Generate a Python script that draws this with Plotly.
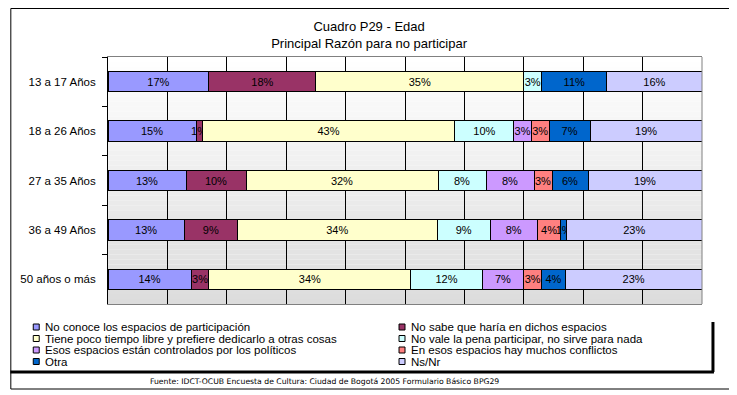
import plotly.graph_objects as go

# ---------------- data ----------------
age_groups = ["13 a 17 Años", "18 a 26 Años", "27 a 35 Años", "36 a 49 Años", "50 años o más"]
reasons = [
    "No conoce los espacios de participación",
    "No sabe que haría en dichos espacios",
    "Tiene poco tiempo libre y prefiere dedicarlo a otras cosas",
    "No vale la pena participar, no sirve para nada",
    "Esos espacios están controlados por los políticos",
    "En esos espacios hay muchos conflictos",
    "Otra",
    "Ns/Nr",
]
no_conoce = [17, 15, 13, 13, 14]
no_sabe = [18, 1, 10, 9, 3]
poco_tiempo = [35, 43, 32, 34, 34]
no_vale = [3, 10, 8, 9, 12]
politicos = [0, 3, 8, 8, 7]
conflictos = [0, 3, 3, 4, 3]
otra = [11, 7, 6, 1, 4]
ns_nr = [16, 19, 19, 23, 23]
series = [no_conoce, no_sabe, poco_tiempo, no_vale, politicos, conflictos, otra, ns_nr]
colors = ["#9999FF", "#993366", "#FFFFCC", "#CCFFFF", "#CC99FF", "#FF8080", "#0066CC", "#CCCCFF"]

title_text = "Cuadro P29 - Edad<br>Principal Razón para no participar"
source_text = "Fuente: IDCT-OCUB Encuesta de Cultura: Ciudad de Bogotá 2005 Formulario Básico BPG29"

# ---------------- layout geometry (screen pixels; page body has 8px margin) ----------------
OFF = 8
W, H = 737 - OFF, 395 - OFF
L, R, T, B = 106, 702, 57, 304  # plot area in screen pixels


def px_x(x):
    return (x - L) / (R - L)


def px_y(y):
    return (B - y) / (B - T)


FONT = "Liberation Sans, Arial, sans-serif"

fig = go.Figure()
for name, vals, col in zip(reasons, series, colors):
    fig.add_trace(go.Bar(
        y=age_groups, x=vals, name=name, orientation="h",
        marker=dict(color=col, line=dict(color="black", width=1)),
        text=[f"{v}%" for v in vals],
        textposition="inside", insidetextanchor="middle", textangle=0,
        textfont=dict(family=FONT, size=11, color="black"),
        showlegend=False,
    ))

shapes = []
# gradient background of plot area
n = 50
for i in range(n):
    t = (i + 0.5) / n
    c = int(round(255 - t * (255 - 220)))
    shapes.append(dict(type="rect", xref="paper", yref="paper", layer="below",
                       x0=0, x1=1, y0=1 - i / n, y1=1 - (i + 1) / n,
                       line=dict(width=0), fillcolor=f"rgb({c},{c},{c})"))
# right border of plot area (gray)
shapes.append(dict(type="line", xref="paper", yref="paper", x0=1, x1=1, y0=0, y1=1,
                   line=dict(color="#808080", width=1)))
# outer chart border
shapes.append(dict(type="rect", xref="paper", yref="paper",
                   x0=px_x(8.5), x1=px_x(731), y0=px_y(8.5), y1=px_y(389),
                   line=dict(color="black", width=1)))
# legend shadow
shapes.append(dict(type="line", xref="paper", yref="paper",
                   x0=px_x(8), x1=px_x(714), y0=px_y(372), y1=px_y(372),
                   line=dict(color="black", width=3)))
shapes.append(dict(type="line", xref="paper", yref="paper",
                   x0=px_x(713), x1=px_x(713), y0=px_y(322), y1=px_y(372),
                   line=dict(color="black", width=3)))

annotations = []
# legend (two columns, row-wise order)
row_y = [327, 338.5, 350, 361.5]
col_x = [31, 398]
for k, (name, col) in enumerate(zip(reasons, colors)):
    r, c = divmod(k, 2)
    x0 = col_x[c]
    yc = row_y[r]
    shapes.append(dict(type="rect", xref="paper", yref="paper",
                       x0=px_x(x0), x1=px_x(x0 + 6), y0=px_y(yc - 3), y1=px_y(yc + 3),
                       fillcolor=col, line=dict(color="black", width=1)))
    annotations.append(dict(text=name, xref="paper", yref="paper",
                            x=px_x(x0 + 10), y=px_y(yc), xanchor="left", yanchor="middle",
                            showarrow=False, font=dict(family=FONT, size=11.5, color="black")))

annotations.append(dict(text=source_text, xref="paper", yref="paper",
                        x=px_x(323), y=px_y(381), xanchor="center", yanchor="middle",
                        showarrow=False, font=dict(family="DejaVu Sans, Verdana, sans-serif", size=7.7, color="black")))

fig.update_layout(
    width=W, height=H,
    margin=dict(l=L - OFF, r=W - (R - OFF), t=T - OFF, b=H - (B - OFF), pad=0),
    paper_bgcolor="white", plot_bgcolor="rgba(0,0,0,0)",
    barmode="stack", barnorm="percent", bargap=0.59,
    title=dict(text=title_text, x=px_x(368), xref="paper", xanchor="center",
               y=1 - (31 - OFF) / H, yanchor="middle",
               font=dict(family=FONT, size=13, color="black")),
    uniformtext=dict(minsize=11, mode="show"),
    shapes=shapes, annotations=annotations,
    font=dict(family=FONT, size=11, color="black"),
)
fig.update_xaxes(range=[0, 100], tickmode="array", tickvals=[10, 20, 30, 40, 50, 60, 70, 80, 90],
                 showgrid=True, gridcolor="black", gridwidth=1,
                 showticklabels=False, ticks="", zeroline=False,
                 showline=True, linecolor="#808080", linewidth=1, mirror=True)
fig.update_yaxes(categoryorder="array", categoryarray=age_groups, autorange="reversed",
                 showgrid=False, zeroline=False, showline=True, linecolor="black", linewidth=1,
                 ticks="outside", ticklen=5, tickcolor="black", tickson="boundaries",
                 ticklabelstandoff=9,
                 tickfont=dict(family=FONT, size=11.5, color="black"))

fig.write_html("out.html")
